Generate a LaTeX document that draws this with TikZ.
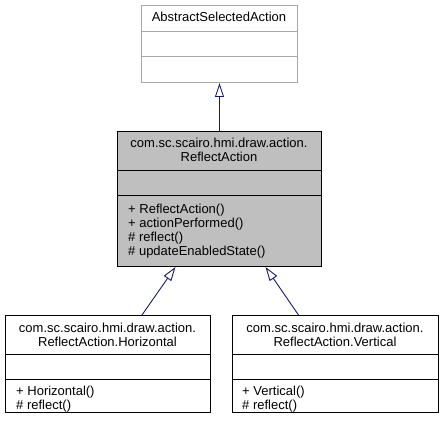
\documentclass[tikz,border=0pt]{standalone}
\usepackage{fontspec}
\setmainfont{Liberation Sans}
\usetikzlibrary{arrows.meta}
\definecolor{edgeblue}{HTML}{191970}
\definecolor{boxgray}{HTML}{BFBFBF}
\definecolor{extgray}{HTML}{A9A9A9}
\tikzset{
  classbox/.style={draw=black, fill=white, line width=1pt, anchor=north west, inner sep=0pt},
  classname/.style={align=center, inner sep=0pt, font=\fontsize{13}{14}\selectfont},
  memberlist/.style={align=left, anchor=north west, inner sep=0pt, font=\fontsize{13}{14}\selectfont},
  inherit/.style={draw=edgeblue, line width=0.9pt, -{Triangle[open, width=9pt, length=14pt]}},
}
\begin{document}
\begin{tikzpicture}[x=1pt,y=-1pt]
  \useasboundingbox (0,0) rectangle (440,427);

  % boxes
  \node[classbox, draw=extgray, minimum width=156pt, minimum height=77pt] (abstract) at (141,5) {};
  \node[classbox, fill=boxgray, minimum width=204pt, minimum height=135pt] (reflect) at (117,131) {};
  \node[classbox, minimum width=205pt, minimum height=97pt] (horizontal) at (5,315) {};
  \node[classbox, minimum width=206pt, minimum height=97pt] (vertical) at (232,315) {};

  % compartments
  \draw[extgray, line width=1pt] (abstract.west |- 0,32) -- (abstract.east |- 0,32);
  \draw[extgray, line width=1pt] (abstract.west |- 0,57) -- (abstract.east |- 0,57);
  \draw[line width=1pt] (reflect.west |- 0,171) -- (reflect.east |- 0,171);
  \draw[line width=1pt] (reflect.west |- 0,196) -- (reflect.east |- 0,196);
  \draw[line width=1pt] (horizontal.west |- 0,355) -- (horizontal.east |- 0,355);
  \draw[line width=1pt] (horizontal.west |- 0,380) -- (horizontal.east |- 0,380);
  \draw[line width=1pt] (vertical.west |- 0,355) -- (vertical.east |- 0,355);
  \draw[line width=1pt] (vertical.west |- 0,380) -- (vertical.east |- 0,380);

  % names and members
  \node[classname] (abstract-name) at (219,17) {AbstractSelectedAction};
  \node[classname] (reflect-name) at (219,150) {com.sc.scairo.hmi.draw.action.\\ReflectAction};
  \node[memberlist] (reflect-ops) at (128,204) {+ ReflectAction()\\+ actionPerformed()\\\# reflect()\\\# updateEnabledState()};
  \node[classname] (horizontal-name) at (107.5,335) {com.sc.scairo.hmi.draw.action.\\ReflectAction.Horizontal};
  \node[memberlist] (horizontal-ops) at (16,386) {+ Horizontal()\\\# reflect()};
  \node[classname] (vertical-name) at (335,335) {com.sc.scairo.hmi.draw.action.\\ReflectAction.Vertical};
  \node[memberlist] (vertical-ops) at (242,386) {+ Vertical()\\\# reflect()};

  % inheritance
  \draw[inherit] (reflect.north) -- (abstract.south);
  \draw[inherit] ([xshift=34pt]horizontal.north) -- ([xshift=-44pt]reflect.south);
  \draw[inherit] ([xshift=-37pt]vertical.north) -- ([xshift=46pt]reflect.south);
\end{tikzpicture}
\end{document}
